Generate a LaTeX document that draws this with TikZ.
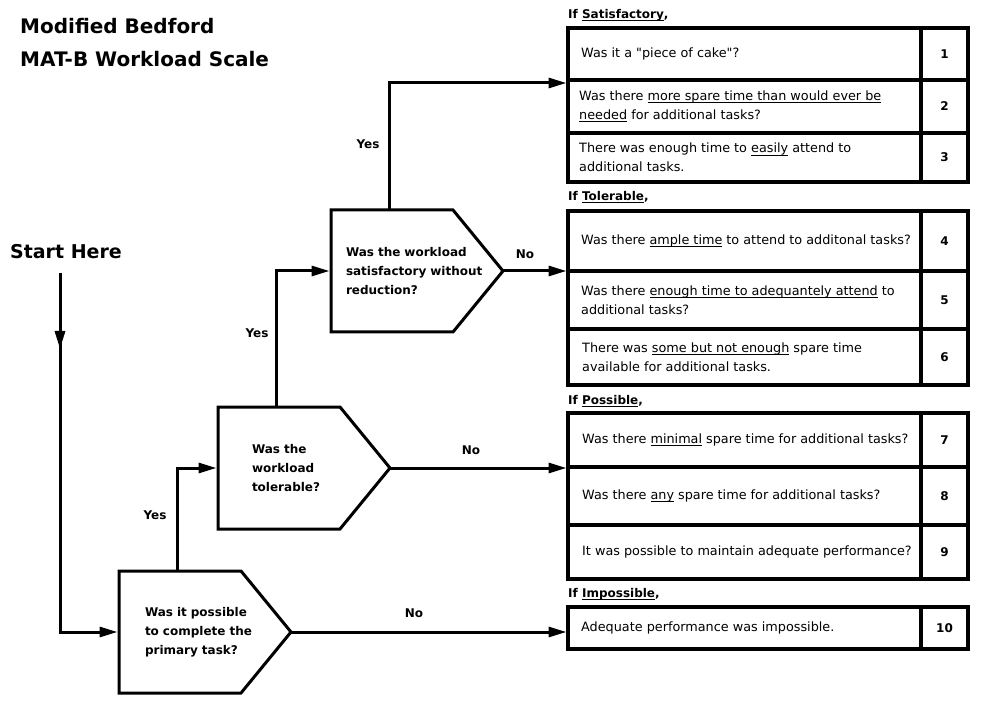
\documentclass[tikz,border=0pt]{standalone}
\usepackage{fontspec}
\setmainfont{DejaVu Sans}[Ligatures=TeXOff]
\usetikzlibrary{arrows.meta,positioning}

% underline at a fixed depth
\newsavebox\ulbox
\newcommand{\uln}[1]{\sbox\ulbox{#1}\rlap{\rule[-2.6pt]{\wd\ulbox}{0.8pt}}\usebox\ulbox}

\tikzset{
  >={Triangle[length=18pt,width=10pt]},
  every node/.style={font=\fontsize{12.8}{19}\selectfont, text=black},
  lbl/.style={font=\bfseries\fontsize{12}{19}\selectfont},
  decision/.style={lbl, minimum width=172pt, minimum height=122pt, outer sep=0pt, align=left},
  outline/.style={line width=3pt, line join=miter},
  flow/.style={line width=3pt, shorten >=1.5pt},
  cell/.style={draw, line width=4pt, outer sep=0pt, minimum width=353pt, inner sep=0pt},
  numcell/.style={cell, lbl, minimum width=47pt},
  celltext/.style={align=left, inner sep=0pt},
  head/.style={lbl, anchor=west, inner sep=0pt}
}

\begin{document}
\begin{tikzpicture}[x=1pt, y=-1pt]
  \useasboundingbox (0,0) rectangle (1007,711);

  % Title
  \node[font=\bfseries\fontsize{20}{33}\selectfont, align=left, anchor=west, inner sep=0pt] (title) at (20,43) {Modified Bedford\\MAT-B Workload Scale};
  \node[font=\bfseries\fontsize{19}{19}\selectfont, inner sep=0pt] (start) at (66,252) {Start Here};

  % Decisions
  \node[decision, inner xsep=26pt, text width=120pt] (q1) at (205,632) {Was it possible\\to complete the\\primary task?};
  \node[decision, inner xsep=34pt, text width=104pt] (q2) at (304,468) {Was the\\workload\\tolerable?};
  \node[decision, inner xsep=15pt, text width=142pt] (q3) at (417,271) {Was the workload\\satisfactory without\\reduction?};
  \foreach \q in {q1,q2,q3}
    \draw[outline] (\q.north west) -- ([xshift=-50pt]\q.north east) -- (\q.east)
      -- ([xshift=-50pt]\q.south east) -- (\q.south west) -- cycle;

  % If Satisfactory
  \node[head] (h1) at (568,15) {If \uln{Satisfactory},};
  \node[cell, minimum height=52pt] (r1) at (744.5,54) {};
  \node[cell, minimum height=53pt, below=0pt of r1] (r2) {};
  \node[cell, minimum height=49pt, below=0pt of r2] (r3) {};
  \node[numcell, minimum height=52pt, right=0pt of r1] (n1) {1};
  \node[numcell, minimum height=53pt, right=0pt of r2] (n2) {2};
  \node[numcell, minimum height=49pt, right=0pt of r3] (n3) {3};
  \node[celltext, right=13pt of r1.west] (t1) {Was it a "piece of cake"?};
  \node[celltext, right=11pt of r2.west] (t2) {Was there \uln{more spare time than would ever be}\\\uln{needed} for additional tasks?};
  \node[celltext, right=11pt of r3.west] (t3) {There was enough time to \uln{easily} attend to\\additional tasks.};

  % If Tolerable
  \node[head] (h2) at (568,197) {If \uln{Tolerable},};
  \node[cell, minimum height=60pt] (r4) at (744.5,241) {};
  \node[cell, minimum height=58pt, below=0pt of r4] (r5) {};
  \node[cell, minimum height=56pt, below=0pt of r5] (r6) {};
  \node[numcell, minimum height=60pt, right=0pt of r4] (n4) {4};
  \node[numcell, minimum height=58pt, right=0pt of r5] (n5) {5};
  \node[numcell, minimum height=56pt, right=0pt of r6] (n6) {6};
  \node[celltext, right=13pt of r4.west] (t4) {Was there \uln{ample time} to attend to additonal tasks?};
  \node[celltext, right=13pt of r5.west] (t5) {Was there \uln{enough time to adequantely attend} to\\additional tasks?};
  \node[celltext, right=14pt of r6.west] (t6) {There was \uln{some but not enough} spare time\\available for additional tasks.};

  % If Possible
  \node[head] (h3) at (568,401) {If \uln{Possible},};
  \node[cell, minimum height=54pt] (r7) at (744.5,440) {};
  \node[cell, minimum height=58pt, below=0pt of r7] (r8) {};
  \node[cell, minimum height=54pt, below=0pt of r8] (r9) {};
  \node[numcell, minimum height=54pt, right=0pt of r7] (n7) {7};
  \node[numcell, minimum height=58pt, right=0pt of r8] (n8) {8};
  \node[numcell, minimum height=54pt, right=0pt of r9] (n9) {9};
  \node[celltext, right=14pt of r7.west] (t7) {Was there \uln{minimal} spare time for additional tasks?};
  \node[celltext, right=14pt of r8.west] (t8) {Was there \uln{any} spare time for additional tasks?};
  \node[celltext, right=14pt of r9.west] (t9) {It was possible to maintain adequate performance?};

  % If Impossible
  \node[head] (h4) at (568,594) {If \uln{Impossible},};
  \node[cell, minimum height=42pt] (r10) at (744.5,628) {};
  \node[numcell, minimum height=42pt, right=0pt of r10] (n10) {10};
  \node[celltext, right=13pt of r10.west] (t10) {Adequate performance was impossible.};

  % Flow
  \coordinate (s0) at (60,273);
  \coordinate (s1) at (60,349);
  \draw[flow, ->] (s0) |- (q1.west);
  \draw[flow, ->, shorten >=0pt] (s0) -- (s1);
  \draw[flow, ->] ([xshift=58pt]q1.north west) |- (q2.west);
  \draw[flow, ->] ([xshift=58pt]q2.north west) |- (q3.west);
  \draw[flow, ->] ([xshift=58pt]q3.north west) |- ([yshift=-3pt]r1.south west);
  \draw[flow, ->] (q3.east) -- (q3.east -| r4.west);
  \draw[flow, ->] (q2.east) -- (q2.east -| r7.west);
  \draw[flow, ->] (q1.east) -- (q1.east -| r10.west);

  % Answers
  \node[lbl] (yes1) at (155,515) {Yes};
  \node[lbl] (yes2) at (257,333) {Yes};
  \node[lbl] (yes3) at (368,144) {Yes};
  \node[lbl] (no3) at (525,254) {No};
  \node[lbl] (no2) at (471,450) {No};
  \node[lbl] (no1) at (414,613) {No};
\end{tikzpicture}
\end{document}
